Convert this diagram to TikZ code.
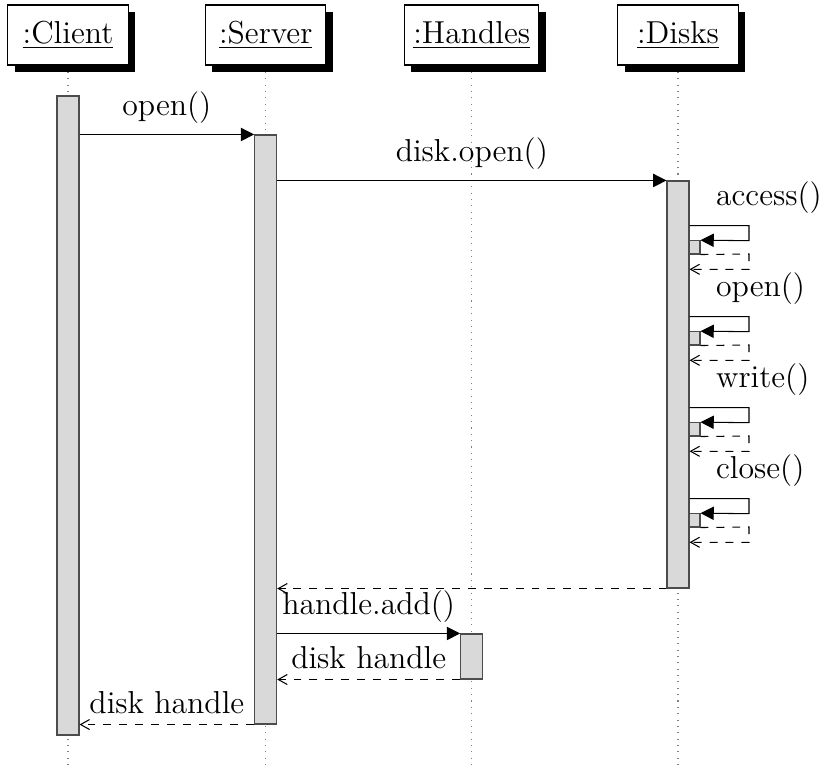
\documentclass[tikz,border=0pt]{standalone}
\usetikzlibrary{arrows.meta,shadows,fit,calc}
\pgfdeclarelayer{bg}
\pgfsetlayers{bg,main}

\begin{document}
\begin{tikzpicture}[
  x=0.378pt, y=-0.378pt,
  font=\fontsize{12}{14.4}\selectfont,
  inst/.style={draw=black, fill=white, minimum width=45.5pt, minimum height=22.7pt,
    drop shadow={opacity=1, fill=black, shadow xshift=2.6pt, shadow yshift=-2.6pt}},
  actbar/.style={draw=black!70, fill=gray!30, inner sep=0pt},
  lifeline/.style={draw=gray, dotted},
  call/.style={-{Triangle[length=5pt,width=5pt]}},
  ret/.style={dashed, -{Straight Barb[length=3.4pt,width=3.8pt]}},
  lbl/.style={inner sep=4pt}
]
\useasboundingbox (0,0) rectangle (820,769);

% instances
\node[inst] (client)  at (68,35)    {\underline{:Client}};
\node[inst] (server)  at (265.7,35) {\underline{:Server}};
\node[inst] (handles) at (471.7,35) {\underline{:Handles}};
\node[inst] (disks)   at (678,35)   {\underline{:Disks}};

% lifelines
\coordinate (ebot) at (0,769);
\begin{pgfonlayer}{bg}
  \foreach \n in {client,server,handles,disks}
    \draw[lifeline] (\n.south) -- (\n.south |- ebot);
\end{pgfonlayer}

% activation bars
\node[actbar, fit={(57,96) (79,735)}] (cbar) {};
\node[actbar, fit={(254.7,135) (276.7,724)}] (sbar) {};
\node[actbar, fit={(667,181) (689,588)}] (dbar) {};
\node[actbar, fit={(460.7,634) (482.7,679)}] (hbar) {};

% calls
\draw[call] (cbar.east |- sbar.north) -- node[lbl, above] {open()} (sbar.north west);
\draw[call] (sbar.east |- dbar.north) -- node[lbl, above] {disk.open()} (dbar.north west);

% self calls on the disks
\foreach \k/\txt in {0/access(),1/open(),2/write(),3/close()} {
  \pgfmathsetmacro{\yt}{225.7+91*\k}
  \pgfmathsetmacro{\ya}{\yt+15}
  \pgfmathsetmacro{\yb}{\yt+28.3}
  \pgfmathsetmacro{\yc}{\yt+43.6}
  \node[actbar, fit={(689,\ya) (700,\yb)}] (sc\k) {};
  \coordinate (top\k) at (0,\yt);
  \coordinate (bot\k) at (0,\yc);
  \node[lbl, anchor=south west] (lab\k) at (705,\yt-1.5) {\txt};
  \draw[call] (dbar.east |- top\k) -- (749,\yt) -- (749,\ya) -- (sc\k.north east);
  \draw[ret] (sc\k.south east) -- (749,\yb) -- (749,\yc) -- (dbar.east |- bot\k);
}

% returns and the handle call
\draw[ret] (dbar.south west) -- (sbar.east |- dbar.south);
\draw[call] (sbar.east |- hbar.north) -- node[lbl, above] {handle.add()} (hbar.north west);
\draw[ret] (hbar.south west) -- node[lbl, above] {disk handle} (sbar.east |- hbar.south);
\draw[ret] (sbar.south west) -- node[lbl, above] {disk handle} (cbar.east |- sbar.south);
\end{tikzpicture}
\end{document}
